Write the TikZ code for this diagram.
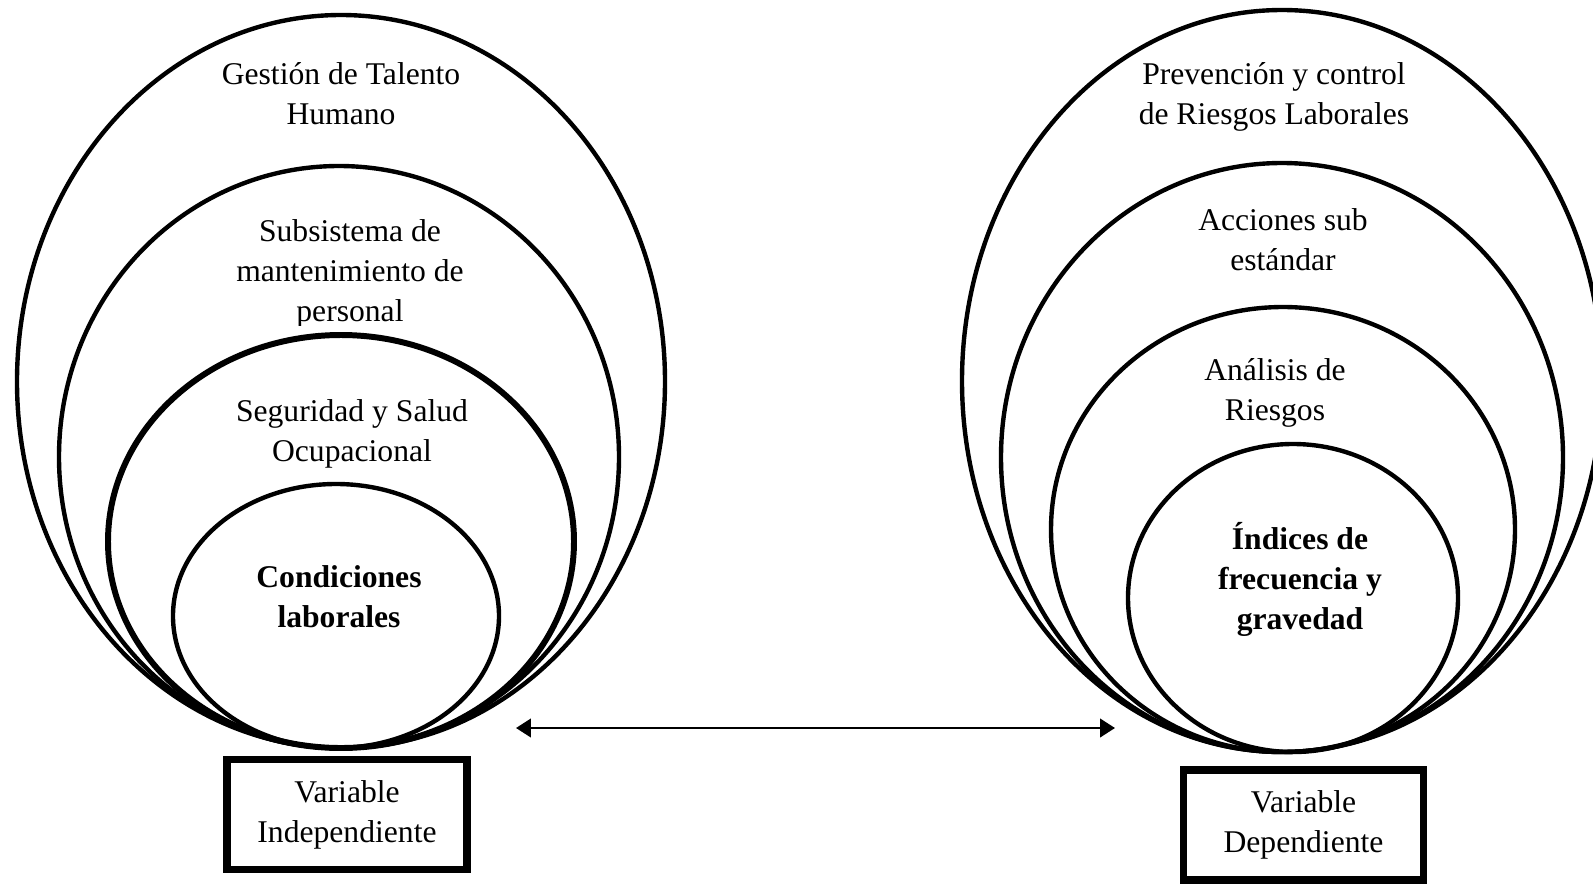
\documentclass[tikz,border=0pt]{standalone}
\usepackage{fontspec}
\setmainfont{Liberation Serif}
\usetikzlibrary{arrows.meta}
\begin{document}
\begin{tikzpicture}[x=0.02cm,y=-0.02cm,
  ring/.style={line width=2.5pt},
  ringthick/.style={line width=3.4pt},
  lbl/.style={align=center,inner sep=0pt,font=\fontsize{18}{22.8}\selectfont},
  blbl/.style={align=center,inner sep=0pt,font=\fontsize{18}{22.8}\selectfont\bfseries},
  varbox/.style={draw,line width=4.3pt,minimum width=4.8cm,minimum height=2.2cm,align=center,inner sep=0pt,font=\fontsize{18}{22.8}\selectfont},
  link/.style={line width=1.5pt,{Triangle[length=8.5pt,width=10.5pt]}-{Triangle[length=8.5pt,width=10.5pt]}}
]
\useasboundingbox (0,0) rectangle (1593,883);
\clip (0,0) rectangle (1593,883);

% left nested ellipses
\draw[ring] (341,381.5) ellipse [x radius=324, y radius=366.5];
\draw[ring] (339,457) ellipse [x radius=280, y radius=291];
\draw[ringthick] (341,541.5) ellipse [x radius=233, y radius=206.5];
\draw[ring] (336,616) ellipse [x radius=163, y radius=132];

% right nested ellipses
\draw[ring] (1282,381) ellipse [x radius=320, y radius=371];
\draw[ring] (1282,457.5) ellipse [x radius=281, y radius=294.5];
\draw[ring] (1283,529.5) ellipse [x radius=232, y radius=222.5];
\draw[ring] (1293,598) ellipse [x radius=165, y radius=154];

% left labels
\node[lbl] (gth) at (341,94) {Gestión de Talento\\Humano};
\begin{scope}
  \clip (150,150) rectangle (550,325);
  \node[lbl] (smp) at (350,274) {Subsistema de\\mantenimiento de\\personal};
\end{scope}
\node[lbl] (sso) at (352,433.5) {Seguridad y Salud\\Ocupacional};
\node[blbl] (cl) at (339,597) {Condiciones\\laborales};

% right labels
\node[lbl] (prl) at (1274,96.5) {Prevención y control\\de Riesgos Laborales};
\node[lbl] (ass) at (1283,240) {Acciones sub\\estándar};
\node[lbl] (ar) at (1275,393) {Análisis de\\Riesgos};
\node[blbl] (ifg) at (1300,579) {Índices de\\frecuencia y\\gravedad};

% variable boxes
\node[varbox] (vi) at (347,814.5) {Variable\\Independiente};
\node[varbox] (vd) at (1303.5,825) {Variable\\Dependiente};

% double arrow
\coordinate (aL) at (516,728);
\coordinate (aR) at (1115,728);
\draw[link] (aL) -- (aR);
\end{tikzpicture}
\end{document}
